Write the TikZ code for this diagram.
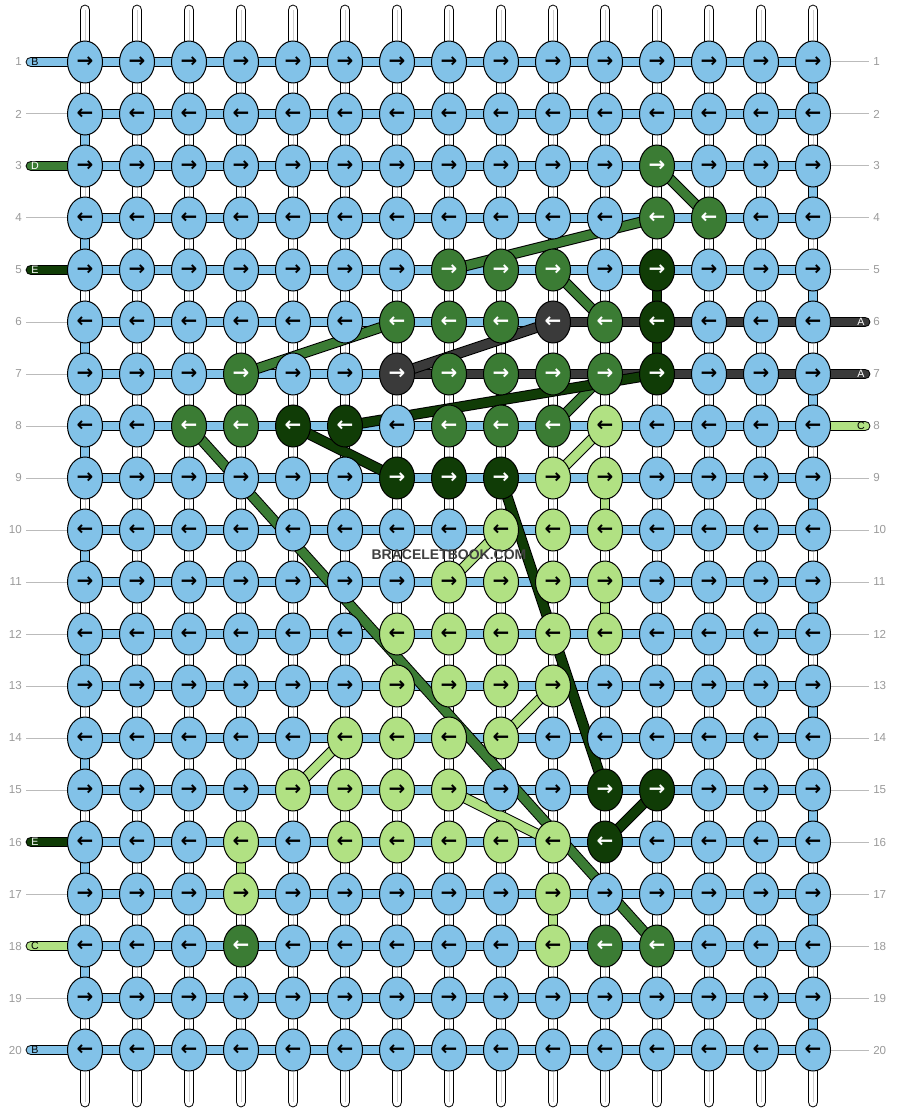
\documentclass[tikz,border=0pt]{standalone}
\usepackage{fontspec}
\setmainfont{Liberation Sans}
\newfontfamily\arrowfont{DejaVu Sans}
\usetikzlibrary{shapes.geometric}
\usetikzlibrary{backgrounds}

\definecolor{cB}{HTML}{82C2E8}
\definecolor{cG}{HTML}{3B7C34}
\definecolor{cD}{HTML}{103C06}
\definecolor{cL}{HTML}{B1E183}
\definecolor{cA}{HTML}{3A3A3A}
\definecolor{guidegrey}{HTML}{BBBBBB}
\definecolor{numgrey}{HTML}{9A9A9A}
\colorlet{tB}{black}
\colorlet{tG}{white}
\colorlet{tD}{white}
\colorlet{tL}{black}
\colorlet{tA}{white}

% coloured segments: \setseg{kind}{row}{col}{colour}
\newcommand\setseg[4]{\expandafter\gdef\csname#1#2-#3\endcsname{#4}}
\newcommand\colof[2]{\ifcsname#1\endcsname\csname#1\endcsname\else#2\fi}
\setseg{v}{5}{12}{cD}
\setseg{v}{6}{12}{cD}
\setseg{v}{9}{11}{cL}
\setseg{v}{11}{11}{cL}
\setseg{v}{12}{7}{cL}
\setseg{v}{16}{4}{cL}
\setseg{v}{17}{10}{cL}
\foreach \r in {1,3,...,19} {\setseg{v}{\r}{15}{cB}}
\foreach \r in {2,4,...,18} {\setseg{v}{\r}{1}{cB}}
\foreach \c in {10,...,14} {\setseg{h}{6}{\c}{cA}}
\foreach \c in {7,...,14} {\setseg{h}{7}{\c}{cA}}

\begin{document}
\begin{tikzpicture}[x=0.75pt, y=-0.75pt,
	knot/.style={ellipse, draw, line width=0.75pt, fill=c#1, text=t#1, minimum width=26.25pt, minimum height=31.5pt, inner sep=0pt, font=\arrowfont\bfseries\fontsize{15}{15}\selectfont},
	strand/.style={draw=black, line width=0.75pt, double=#1, double distance=6.6pt, shorten <=-2pt, shorten >=-2pt},
	midline/.style={draw=black!20, line width=0.6pt},
	guide/.style={draw=guidegrey, line width=0.75pt},
	rownum/.style={text=numgrey, inner sep=3pt, font=\fontsize{8.7}{9}\selectfont},
	tag/.style={inner sep=0pt, font=\fontsize{8}{8}\selectfont}]
	\useasboundingbox (0,0) rectangle (896,1112);
	% knots
	\foreach \r/\row in {
		1/{B,B,B,B,B,B,B,B,B,B,B,B,B,B,B},
		2/{B,B,B,B,B,B,B,B,B,B,B,B,B,B,B},
		3/{B,B,B,B,B,B,B,B,B,B,B,G,B,B,B},
		4/{B,B,B,B,B,B,B,B,B,B,B,G,G,B,B},
		5/{B,B,B,B,B,B,B,G,G,G,B,D,B,B,B},
		6/{B,B,B,B,B,B,G,G,G,A,G,D,B,B,B},
		7/{B,B,B,G,B,B,A,G,G,G,G,D,B,B,B},
		8/{B,B,G,G,D,D,B,G,G,G,L,B,B,B,B},
		9/{B,B,B,B,B,B,D,D,D,L,L,B,B,B,B},
		10/{B,B,B,B,B,B,B,B,L,L,L,B,B,B,B},
		11/{B,B,B,B,B,B,B,L,L,L,L,B,B,B,B},
		12/{B,B,B,B,B,B,L,L,L,L,L,B,B,B,B},
		13/{B,B,B,B,B,B,L,L,L,L,B,B,B,B,B},
		14/{B,B,B,B,B,L,L,L,L,B,B,B,B,B,B},
		15/{B,B,B,B,L,L,L,L,B,B,D,D,B,B,B},
		16/{B,B,B,L,B,L,L,L,L,L,D,B,B,B,B},
		17/{B,B,B,L,B,B,B,B,B,L,B,B,B,B,B},
		18/{B,B,B,G,B,B,B,B,B,L,G,G,B,B,B},
		19/{B,B,B,B,B,B,B,B,B,B,B,B,B,B,B},
		20/{B,B,B,B,B,B,B,B,B,B,B,B,B,B,B}} {
		\foreach \k [count=\c] in \row
			\node[knot=\k] (k\r-\c) at ({33+52*\c},{10+52*\r}) {\ifodd\r\relax→\else←\fi};
	}
	% row numbers and string ends
	\foreach \r in {1,...,20} {
		\node[rownum, anchor=east] (ln\r) at (26,{10+52*\r}) {\r};
		\node[rownum, anchor=west] (rn\r) at (869,{10+52*\r}) {\r};
	}
	\foreach \c in {1,...,15} {
		\coordinate (t\c) at ({33+52*\c},10);
		\coordinate (b\c) at ({33+52*\c},1102);
	}
	\begin{scope}[on background layer]
		\fill[white] (0,0) rectangle (896,1112);
		\foreach \r in {1,...,20} {
			\draw[guide] (ln\r) -- (k\r-1);
			\draw[guide] (k\r-15) -- (rn\r);
		}
		% warp strings
		\foreach \c in {1,...,15} {
			\draw[strand=white, shorten <=0pt, line cap=round] (t\c) -- (k1-\c);
			\draw[midline] (t\c) -- (k1-\c);
			\draw[strand=white, shorten >=0pt, line cap=round] (k20-\c) -- (b\c);
			\draw[midline] (k20-\c) -- (b\c);
			\foreach \r [evaluate=\r as \n using int(\r+1)] in {1,...,19} {
				\ifcsname v\r-\c\endcsname
					\edef\sc{\csname v\r-\c\endcsname}
					\draw[strand=\sc] (k\r-\c) -- (k\n-\c);
				\else
					\draw[strand=white] (k\r-\c) -- (k\n-\c);
					\draw[midline] (k\r-\c) -- (k\n-\c);
				\fi
			}
		}
		% rows
		\foreach \r in {1,...,20} {
			\foreach \c [evaluate=\c as \n using int(\c+1)] in {1,...,14} {
				\edef\hc{\colof{h\r-\c}{cB}}
				\draw[strand=\hc] (k\r-\c) -- (k\r-\n);
			}
		}
		% loose ends
		\foreach \r/\k in {1/B, 3/G, 5/D, 16/D, 18/L, 20/B} {
			\coordinate (sl\r) at (31,{10+52*\r});
			\draw[strand=c\k, shorten <=0pt, line cap=round] (sl\r) -- (k\r-1);
		}
		\foreach \r/\k in {6/A, 7/A, 8/L} {
			\coordinate (sr\r) at (865,{10+52*\r});
			\draw[strand=c\k, shorten >=0pt, line cap=round] (k\r-15) -- (sr\r);
		}
		% crossing strings
		\foreach \a/\b/\col in {3-12/4-13/cG, 4-12/5-8/cG, 5-10/6-11/cG, 6-7/7-4/cG, 7-11/8-10/cG,
			6-10/7-7/cA, 7-12/8-6/cD, 8-5/9-7/cD, 8-11/9-10/cL, 8-3/18-12/cG, 9-9/15-11/cD,
			11-8/10-9/cL, 15-5/14-6/cL, 13-10/14-9/cL, 15-12/16-11/cD, 15-8/16-10/cL}
			\draw[strand=\col] (k\a) -- (k\b);
	\end{scope}
	\foreach \r/\k/\t in {1/B/B, 3/G/D, 5/D/E, 16/D/E, 18/L/C, 20/B/B}
		\node[tag, text=t\k, xshift=3pt] (lt\r) at (sl\r) {\t};
	\foreach \r/\k/\t in {6/A/A, 7/A/A, 8/L/C}
		\node[tag, text=t\k, xshift=-3pt] (rt\r) at (sr\r) {\t};
	\node[font=\bfseries\fontsize{10.5}{10.5}\selectfont, text=black!75] (wm) at (449,555) {BRACELETBOOK.COM};
\end{tikzpicture}
\end{document}
